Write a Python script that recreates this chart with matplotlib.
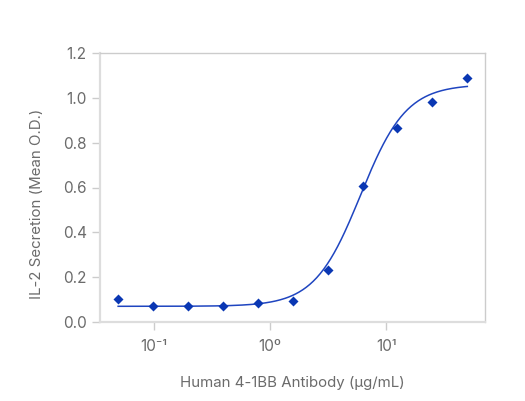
import matplotlib.pyplot as plt
import numpy as np
from matplotlib.ticker import FixedLocator, FixedFormatter, NullLocator

# Концентрации антитела (мкг/мл) и измеренные значения
concentrations = [0.049, 0.098, 0.195, 0.39, 0.78, 1.5625, 3.125, 6.25, 12.5, 25, 50]
od_values = [0.101, 0.071, 0.071, 0.072, 0.086, 0.092, 0.231, 0.607, 0.867, 0.981, 1.089]

# Параметры 4PL-аппроксимации
fit_bottom = 0.07
fit_top = 1.06
fit_ec50 = 6.0
fit_hill = 2.2

x_ticks = [0.1, 1, 10]
x_tick_labels = ["10⁻¹", "10⁰", "10¹"]
y_ticks = [0.0, 0.2, 0.4, 0.6, 0.8, 1.0, 1.2]

plt.rcParams['font.family'] = ['Inter', 'DejaVu Sans']
text_color = "#6b6b6b"
grid_color = "#cccccc"

fig = plt.figure(figsize=(5.25, 4.01), dpi=100)
ax = fig.add_axes([100 / 525, 1 - 322 / 401, 385 / 525, 269 / 401])

# Кривая аппроксимации
x_fit = np.logspace(np.log10(concentrations[0]), np.log10(concentrations[-1]), 300)
y_fit = fit_bottom + (fit_top - fit_bottom) / (1 + (fit_ec50 / x_fit) ** fit_hill)
ax.plot(x_fit, y_fit, color="#1f45c0", linewidth=1.1, zorder=2)

# Исходные точки
ax.scatter(concentrations, od_values, marker="D", s=26, color="#0a37b3", zorder=3, linewidths=0)

ax.set_xscale("log")
ax.set_xlim(0.0342, 71)
ax.set_ylim(0, 1.2)
ax.xaxis.set_major_locator(FixedLocator(x_ticks))
ax.xaxis.set_major_formatter(FixedFormatter(x_tick_labels))
ax.xaxis.set_minor_locator(NullLocator())
ax.set_yticks(y_ticks)
ax.set_yticklabels([f"{v:.1f}" for v in y_ticks])

for side in ["top", "right"]:
    ax.spines[side].set_color(grid_color)
    ax.spines[side].set_linewidth(1.0)
for side in ["left", "bottom"]:
    ax.spines[side].set_color("#dddddd")
    ax.spines[side].set_linewidth(1.6)

ax.tick_params(axis="both", colors=grid_color, labelcolor=text_color, labelsize=11, length=6, width=1)
ax.tick_params(axis="x", pad=6)

ax.set_xlabel("Human 4-1BB Antibody (µg/mL)", color=text_color, fontsize=10.8, labelpad=16)
ax.set_ylabel("IL-2 Secretion (Mean O.D.)", color=text_color, fontsize=10.8)
ax.yaxis.set_label_coords(-0.145, 0.44)

fig.savefig("out.png", dpi=100)
